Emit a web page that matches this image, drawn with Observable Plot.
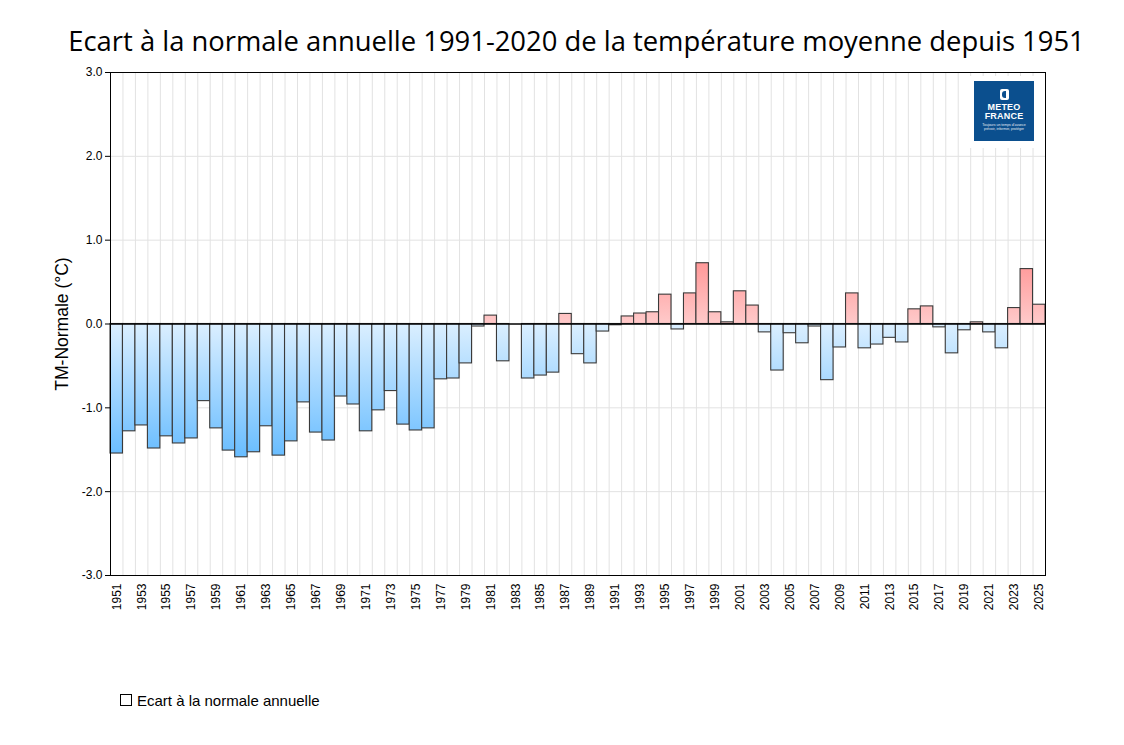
<!DOCTYPE html>
<html>
<head>
<meta charset="utf-8">
<script src="https://cdn.jsdelivr.net/npm/d3@7"></script>
<script src="https://cdn.jsdelivr.net/npm/@observablehq/plot@0.6"></script>
<style>
  body { margin: 0; background: #fff; font-family: "Liberation Sans", Arial, sans-serif; }
  #wrap { position: relative; width: 1124px; }
  #title { height: 60px; box-sizing: border-box; padding-top: 25px; padding-left: 29px; text-align: center;
           font-family: "Open Sans", sans-serif; font-size: 27.4px; line-height: 32px; color: #000; white-space: nowrap; }
  #legend { height: 40px; padding-left: 120px; font-size: 15px; color: #000; display: flex; align-items: center; }
  #legend .sq { width: 10px; height: 10px; border: 1px solid #000; margin-right: 5px; }
  #logoBox { position: absolute; left: 966px; top: 76px; width: 76px; height: 72px; background: #fff; }
  #logo { position: absolute; left: 974px; top: 81px; width: 60px; height: 60px; background: #0b4f8e; color: #fff;
          text-align: center; font-family: "Liberation Sans", Arial, sans-serif; }
  #logo .icon { margin: 8px auto 0; width: 9px; height: 11px; background: #fff; border-radius: 2px; position: relative; }
  #logo .icon::after { content: ""; position: absolute; left: 2px; top: 2px; width: 4px; height: 7px; background: #0b4f8e; border-radius: 3px 0 0 3px; }
  #logo .t { font-weight: bold; font-size: 9px; line-height: 9px; letter-spacing: 0.2px; }
  #logo .s { font-size: 3.5px; line-height: 4px; margin-top: 2px; opacity: 0.9; }
</style>
</head>
<body>
<div id="wrap">
  <div id="title">Ecart à la normale annuelle 1991-2020 de la température moyenne depuis 1951</div>
  <div id="chart"></div>
  <div id="legend"><div class="sq"></div>Ecart à la normale annuelle</div>
  <div id="logoBox"></div>
  <div id="logo"><div class="icon"></div><div class="t" style="margin-top:3px">METEO</div><div class="t">FRANCE</div><div class="s">Toujours un temps d'avance<br>prévoir, informer, protéger</div></div>
</div>
<script>
const years = [1951,1952,1953,1954,1955,1956,1957,1958,1959,1960,
  1961,1962,1963,1964,1965,1966,1967,1968,1969,1970,
  1971,1972,1973,1974,1975,1976,1977,1978,1979,1980,
  1981,1982,1983,1984,1985,1986,1987,1988,1989,1990,
  1991,1992,1993,1994,1995,1996,1997,1998,1999,2000,
  2001,2002,2003,2004,2005,2006,2007,2008,2009,2010,
  2011,2012,2013,2014,2015,2016,2017,2018,2019,2020,
  2021,2022,2023,2024,2025];
const anomalies = [-1.545,-1.28,-1.21,-1.485,-1.34,-1.425,-1.365,-0.92,-1.245,-1.51,
  -1.59,-1.53,-1.22,-1.57,-1.40,-0.935,-1.295,-1.39,-0.865,-0.96,
  -1.28,-1.03,-0.80,-1.20,-1.27,-1.245,-0.66,-0.65,-0.47,-0.03,
  0.10,-0.445,0.0,-0.65,-0.615,-0.58,0.12,-0.36,-0.47,-0.09,
  -0.015,0.09,0.125,0.14,0.35,-0.065,0.365,0.725,0.14,0.02,
  0.39,0.22,-0.10,-0.555,-0.11,-0.23,-0.03,-0.67,-0.28,0.365,
  -0.29,-0.245,-0.165,-0.22,0.175,0.21,-0.04,-0.35,-0.075,0.02,
  -0.10,-0.29,0.19,0.655,0.23];
const yTicks = [-3,-2,-1,0,1,2,3];
const xTickYears = years.filter((y, i) => i % 2 === 0);

const data = years.map((year, i) => ({year, value: anomalies[i]}));
const boundaries = years.map(y => y - 0.5).concat([years[years.length - 1] + 0.5]);

const chart = Plot.plot({
  width: 1124,
  height: 620,
  marginLeft: 110,
  marginRight: 79,
  marginTop: 12,
  marginBottom: 105,
  style: {fontFamily: "'Liberation Sans', Arial, sans-serif", fontSize: "12px", color: "#000"},
  x: {domain: [years[0] - 0.5, years[years.length - 1] + 0.5]},
  y: {domain: [-3, 3]},
  marks: [
    Plot.ruleX(boundaries, {stroke: "#e2e2e2", strokeWidth: 1}),
    Plot.ruleY([-3,-2,-1,1,2,3], {stroke: "#e2e2e2", strokeWidth: 1}),
    Plot.rectY(data, {
      x1: d => d.year - 0.5, x2: d => d.year + 0.5, y1: 0, y2: "value",
      fill: d => d.value >= 0 ? "url(#gradPos)" : "url(#gradNeg)",
      stroke: "#3a3a3a", strokeWidth: 1.1, inset: 0
    }),
    Plot.ruleY([0], {stroke: "#000", strokeWidth: 1.3}),
    Plot.frame({stroke: "#000", strokeWidth: 1}),
    Plot.axisY(yTicks, {tickFormat: d => d.toFixed(1), tickSize: 5, tickPadding: 3, label: null, fontSize: 12}),
    Plot.axisX(xTickYears, {tickSize: 0, tickPadding: 8, tickRotate: -90, tickFormat: d => String(d), label: null, fontSize: 12}),
    Plot.text(["TM-Normale (°C)"], {frameAnchor: "left", dx: -48, rotate: -90, fontSize: 17.5, textAnchor: "middle", fill: "#000"})
  ]
});

const y = chart.scale("y");
const svg = d3.select(chart);
const defs = svg.insert("defs", ":first-child");
const gNeg = defs.append("linearGradient").attr("id", "gradNeg").attr("gradientUnits", "userSpaceOnUse")
  .attr("x1", 0).attr("x2", 0).attr("y1", y.apply(0)).attr("y2", y.apply(-1.6));
gNeg.append("stop").attr("offset", "0").attr("stop-color", "#dbefff");
gNeg.append("stop").attr("offset", "1").attr("stop-color", "#67bcff");
const gPos = defs.append("linearGradient").attr("id", "gradPos").attr("gradientUnits", "userSpaceOnUse")
  .attr("x1", 0).attr("x2", 0).attr("y1", y.apply(0)).attr("y2", y.apply(0.75));
gPos.append("stop").attr("offset", "0").attr("stop-color", "#ffcaca");
gPos.append("stop").attr("offset", "1").attr("stop-color", "#ff9797");

document.getElementById("chart").appendChild(chart);
</script>
</body>
</html>
